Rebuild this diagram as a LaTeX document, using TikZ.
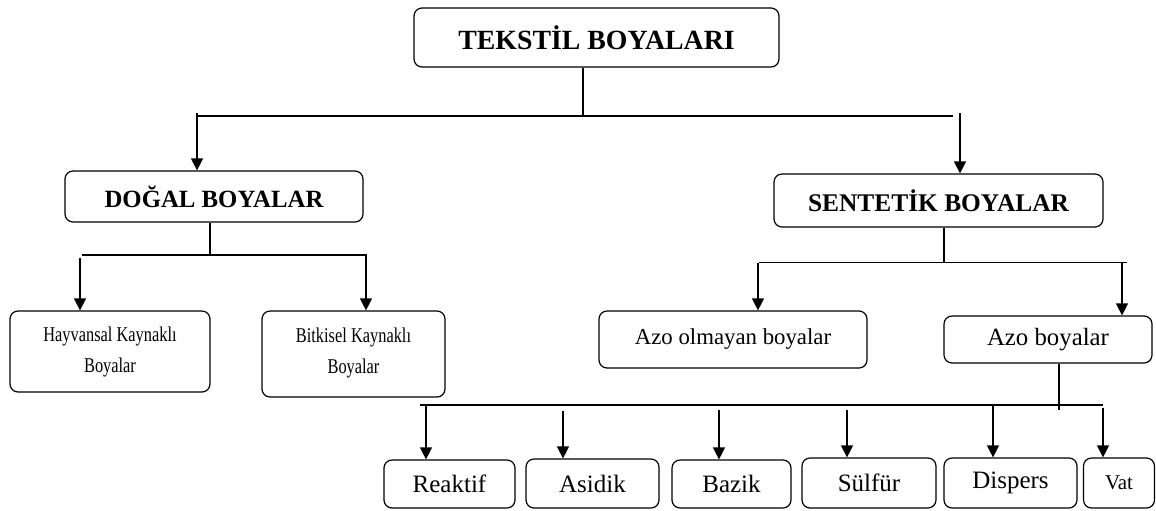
\documentclass[tikz,border=0pt]{standalone}
\usepackage{fontspec}
\setmainfont{Liberation Serif}
\newfontfamily\narrowserif[FakeStretch=0.78]{Liberation Serif}
\usetikzlibrary{arrows.meta}

\begin{document}
\begin{tikzpicture}[x=0.5pt,y=-0.5pt]

\tikzset{dyebox/.style={draw, rounded corners=4pt, line width=0.6pt, inner sep=0pt, align=center},
         conn/.style={line width=0.6pt},
         arr/.style={conn, -{Triangle[length=6pt,width=6pt]}},
         head/.style={font=\fontsize{#1}{15}\selectfont\bfseries},
         plain/.style={font=\fontsize{#1}{15}\selectfont},
         twoline/.style={font=\narrowserif\fontsize{10.5}{15.5}\selectfont}}

\useasboundingbox (0,0) rectangle (1156,510);

\node[dyebox, head=13.9, minimum width=182.5pt, minimum height=29.5pt] (tekstil) at (596.5,37.5) {TEKSTİL BOYALARI};

\node[dyebox, head=12.4, minimum width=149pt, minimum height=25.5pt] (dogal) at (214,196.5) {DOĞAL BOYALAR};
\node[dyebox, head=12.7, minimum width=164.5pt, minimum height=26.5pt] (sentetik) at (938.5,200.5) {SENTETİK BOYALAR};

\node[dyebox, twoline, minimum width=100pt, minimum height=40.5pt] (hayvansal) at (110,351.5) {Hayvansal Kaynaklı\\Boyalar};
\node[dyebox, twoline, minimum width=91.5pt, minimum height=43pt] (bitkisel) at (353.5,354) {\raisebox{3pt}{Bitkisel Kaynaklı}\\\raisebox{3pt}{Boyalar}};
\node[dyebox, plain=11.4, minimum width=134pt, minimum height=28.5pt] (azoolmayan) at (733,339.5) {Azo olmayan boyalar};
\node[dyebox, plain=12.4, minimum width=104pt, minimum height=23.5pt] (azo) at (1048,339.5) {\raisebox{-1.5pt}{Azo boyalar}};

\node[dyebox, plain=12.5, minimum width=65.5pt, minimum height=24pt] (reaktif) at (449.5,484) {Reaktif};
\node[dyebox, plain=12.5, minimum width=66.5pt, minimum height=24.5pt] (asidik) at (592.5,483.5) {Asidik};
\node[dyebox, plain=12.5, minimum width=59.5pt, minimum height=24pt] (bazik) at (731.5,484) {Bazik};
\node[dyebox, plain=12.5, minimum width=67pt, minimum height=25pt] (sulfur) at (869,483) {Sülfür};
\node[dyebox, plain=12.5, minimum width=66.5pt, minimum height=25pt] (dispers) at (1010.5,483) {Dispers};
\node[dyebox, plain=10.5, minimum width=35.5pt, minimum height=25pt] (vat) at (1119,483) {Vat};

\coordinate (topstem) at (583,116);
\coordinate (topleft) at (197,116);
\coordinate (topright) at (953,116);
\coordinate (todogal) at (197,113);
\coordinate (tosentetik) at (960,113);
\draw[conn] (tekstil.south -| topstem) -- (topstem);
\draw[conn] (topleft) -- (topright);
\draw[arr] (todogal) -- (todogal |- dogal.north);
\draw[arr] (tosentetik) -- (tosentetik |- sentetik.north);

\coordinate (dogalstem) at (210,255);
\coordinate (dogalleft) at (82,255);
\coordinate (dogalright) at (367,255);
\coordinate (tohayvansal) at (80,258);
\coordinate (tobitkisel) at (366,255);
\draw[conn] (dogal.south -| dogalstem) -- (dogalstem);
\draw[conn] (dogalleft) -- (dogalright);
\draw[arr] (tohayvansal) -- (tohayvansal |- hayvansal.north);
\draw[arr] (tobitkisel) -- (tobitkisel |- bitkisel.north);

\coordinate (sentetikstem) at (944,262.5);
\coordinate (sentetikleft) at (759,262.5);
\coordinate (sentetikright) at (1127,262.5);
\coordinate (toazoolmayan) at (758,262.5);
\coordinate (toazo) at (1122,262.5);
\draw[conn] (sentetik.south -| sentetikstem) -- (sentetikstem);
\draw[conn] (sentetikleft) -- (sentetikright);
\draw[arr] (toazoolmayan) -- (toazoolmayan |- azoolmayan.north);
\draw[arr] (toazo) -- (toazo |- azo.north);

\coordinate (azostem) at (1059,410);
\coordinate (azoleft) at (420,405);
\coordinate (azoright) at (1103,405);
\draw[conn] (azo.south -| azostem) -- (azostem);
\draw[conn] (azoleft) -- (azoright);
\coordinate (toreaktif) at (426,405);
\coordinate (toasidik) at (563,411);
\coordinate (tobazik) at (719,410);
\coordinate (tosulfur) at (847,410);
\coordinate (todispers) at (993,405);
\coordinate (tovat) at (1103,408);
\draw[arr] (toreaktif) -- (toreaktif |- reaktif.north);
\draw[arr] (toasidik) -- (toasidik |- asidik.north);
\draw[arr] (tobazik) -- (tobazik |- bazik.north);
\draw[arr] (tosulfur) -- (tosulfur |- sulfur.north);
\draw[arr] (todispers) -- (todispers |- dispers.north);
\draw[arr] (tovat) -- (tovat |- vat.north);

\end{tikzpicture}
\end{document}
